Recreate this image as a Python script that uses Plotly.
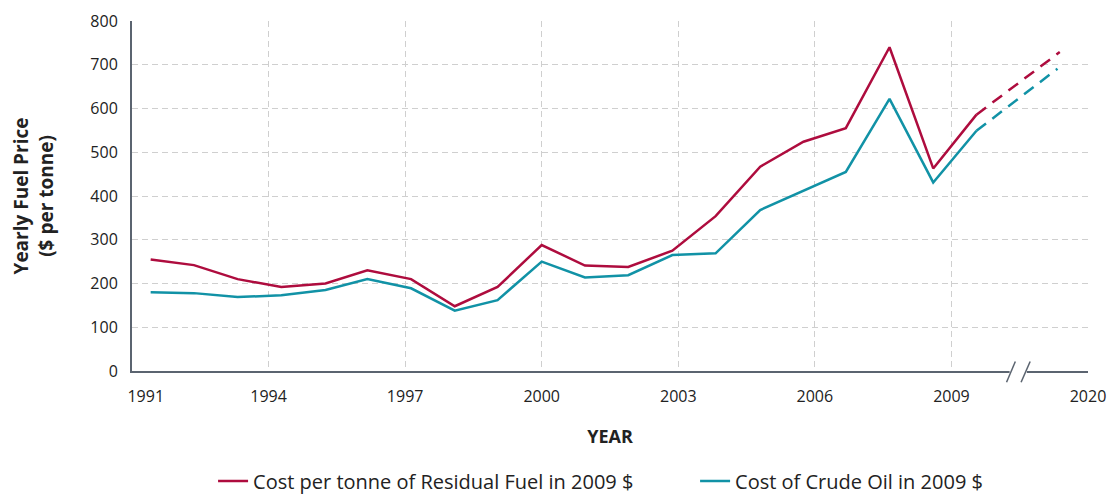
import plotly.graph_objects as go

# positions along the axis (in axis years, 2009 -> 2020 is squeezed into 3 units)
x_pos = [1991.41, 1992.36, 1993.32, 1994.28, 1995.25, 1996.17, 1997.13, 1998.09, 1999.03, 2000.0,
         2000.95, 2001.9, 2002.87, 2003.82, 2004.8, 2005.75, 2006.68, 2007.64, 2008.6, 2009.55]
residual_fuel = [255, 242, 210, 192, 200, 230, 210, 148, 192, 288,
                 241, 238, 275, 354, 467, 524, 555, 740, 463, 586]
crude_oil = [180, 178, 169, 173, 185, 210, 189, 138, 162, 250,
             214, 219, 265, 269, 368, 412, 455, 622, 431, 549]

# projection to 2020 (dashed)
proj_x_residual = [2009.55, 2011.38]
proj_residual = [586, 729]
proj_x_crude = [2009.55, 2011.33]
proj_crude = [549, 691]

tick_pos = [1991, 1994, 1997, 2000, 2003, 2006, 2009, 2012]
tick_text = ["\u2007\u2007\u20071991", "1994", "1997", "2000", "2003", "2006", "2009", "2020"]

RED = "#AE0C3E"
TEAL = "#1192A6"
AXIS = "#5b6470"
GRID = "#cfcfcf"
FONT = "Open Sans"


def build_figure() -> go.Figure:
    fig = go.Figure()
    fig.add_trace(go.Scatter(x=x_pos, y=residual_fuel, mode="lines",
                             line=dict(color=RED, width=2.5),
                             name="Cost per tonne of Residual Fuel in 2009 $", legend="legend"))
    fig.add_trace(go.Scatter(x=x_pos, y=crude_oil, mode="lines",
                             line=dict(color=TEAL, width=2.5),
                             name="Cost of Crude Oil in 2009 $", legend="legend2"))
    fig.add_trace(go.Scatter(x=proj_x_residual, y=proj_residual, mode="lines",
                             line=dict(color=RED, width=2.5, dash="12px,8px"),
                             showlegend=False))
    fig.add_trace(go.Scatter(x=proj_x_crude, y=proj_crude, mode="lines",
                             line=dict(color=TEAL, width=2.5, dash="12px,8px"),
                             showlegend=False))

    # axis break marks "//"
    fig.add_shape(type="rect", xref="paper", yref="paper", x0=0.918, x1=0.936, y0=-0.012, y1=0.012,
                  fillcolor="white", line=dict(width=0), layer="above")
    for x0, x1 in [(0.9148, 0.924), (0.930, 0.9395)]:
        fig.add_shape(type="line", xref="paper", yref="paper", x0=x0, x1=x1, y0=-0.032, y1=0.027,
                      line=dict(color=AXIS, width=1.5), layer="above")

    legend_style = dict(orientation="h", xanchor="left", y=-0.314, yanchor="middle",
                        font=dict(size=20), bgcolor="rgba(0,0,0,0)")
    fig.update_layout(
        width=1115,
        height=496,
        margin=dict(l=132, r=27, t=21, b=125, autoexpand=False),
        paper_bgcolor="white",
        plot_bgcolor="white",
        font=dict(family=FONT, size=16, color="#222222"),
        legend=dict(x=0.0848, **legend_style),
        legend2=dict(x=0.589, **legend_style),
    )
    fig.update_xaxes(range=[1991, 2012], tickvals=tick_pos, ticktext=tick_text,
                     showline=True, linecolor=AXIS, linewidth=2,
                     showgrid=True, gridcolor=GRID, griddash="6px,4px", gridwidth=1,
                     zeroline=False, ticks="", ticklabelstandoff=10, automargin=False,
                     title=dict(text="<b>YEAR</b>", font=dict(size=18), standoff=24))
    fig.update_yaxes(range=[0, 800], dtick=100,
                     showline=True, linecolor=AXIS, linewidth=2,
                     showgrid=True, gridcolor=GRID, griddash="6px,4px", gridwidth=1,
                     zeroline=False, ticks="", ticklabelstandoff=9, automargin=False,
                     title=dict(text="<b>Yearly Fuel Price<br>($ per tonne)</b>",
                                font=dict(size=19), standoff=32))
    return fig


fig = build_figure()
# page body has a default 8px margin; drop it so the figure sits at the window corner
fig.write_html("out.html", config={"displayModeBar": False},
               post_script="document.body.style.margin = '0';")
